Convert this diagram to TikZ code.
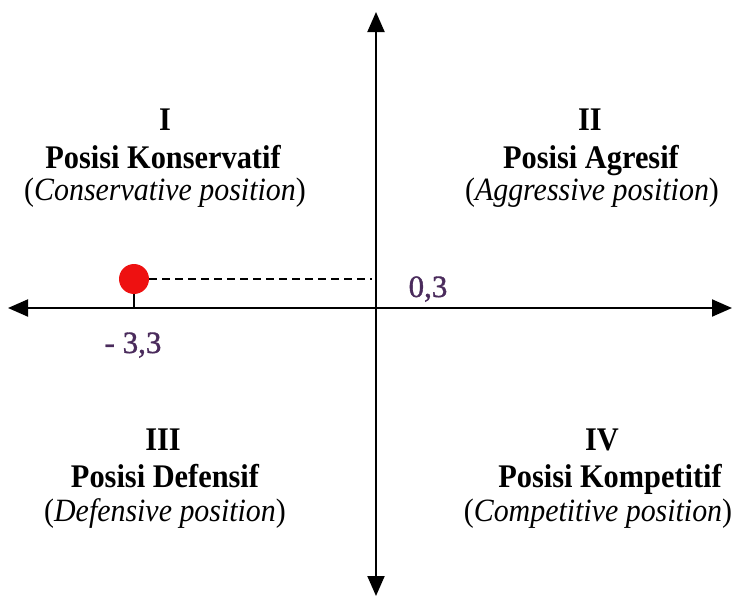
\documentclass[tikz,border=0pt]{standalone}
\usepackage{fontspec}
\setmainfont{Liberation Serif}
\newfontfamily\narrowserif[FakeStretch=0.92]{Liberation Serif}
\newfontfamily\valuefont[FakeBold=1.2]{Liberation Serif}
\usetikzlibrary{arrows.meta}
\definecolor{numcol}{HTML}{4A2B5C}
\definecolor{dotred}{HTML}{EE1111}
\tikzset{
  axis/.style={line width=2pt,-{Triangle[length=20pt,width=17pt]}},
  numeral/.style={anchor=base,inner sep=0pt,font=\narrowserif\fontsize{33}{36}\selectfont\bfseries},
  title/.style={anchor=base,inner sep=0pt,font=\narrowserif\fontsize{33}{36}\selectfont\bfseries},
  subtitle/.style={anchor=base,inner sep=0pt,font=\narrowserif\fontsize{32.5}{35}\selectfont},
  value/.style={anchor=base,inner sep=0pt,text=numcol,font=\valuefont\fontsize{31}{34}\selectfont},
}
\begin{document}
\begin{tikzpicture}[x=1pt,y=-1pt]
\useasboundingbox (0,0) rectangle (732,597);
% axes
\coordinate (O) at (376,308);
\coordinate (top) at (376,12);
\coordinate (bottom) at (376,596);
\coordinate (left) at (8,308);
\coordinate (right) at (732,308);
\draw[axis] (O) -- (top);
\draw[axis] (O) -- (bottom);
\draw[axis] (O) -- (left);
\draw[axis] (O) -- (right);
% position point
\coordinate (tick) at (134,308);
\node[circle,fill=dotred,minimum size=30pt,inner sep=0pt] (dot) at (134,279) {};
\coordinate (yaxis) at (372,279);
\draw[line width=1.6pt] (dot.south) -- (tick);
\draw[line width=1.6pt,dash pattern=on 8pt off 5pt] (dot.east) -- (yaxis);
\node[value] (xval) at (133,353) {- 3,3};
\node[value] (yval) at (428,297) {0,3};
% quadrant I
\node[numeral] (q1n) at (165,130) {I};
\node[title] (q1t) at (163,168) {Posisi Konservatif};
\node[subtitle] (q1s) at (165,200) {(\textit{Conservative position})};
% quadrant II
\node[numeral] (q2n) at (590,130) {II};
\node[title] (q2t) at (591,168) {Posisi Agresif};
\node[subtitle] (q2s) at (592,200) {(\textit{Aggressive position})};
% quadrant III
\node[numeral] (q3n) at (163,450) {III};
\node[title] (q3t) at (165,487) {Posisi Defensif};
\node[subtitle] (q3s) at (165,521) {(\textit{Defensive position})};
% quadrant IV
\node[numeral] (q4n) at (602,450) {IV};
\node[title] (q4t) at (610,487) {Posisi Kompetitif};
\node[subtitle] (q4s) at (598,521) {(\textit{Competitive position})};
\end{tikzpicture}
\end{document}
